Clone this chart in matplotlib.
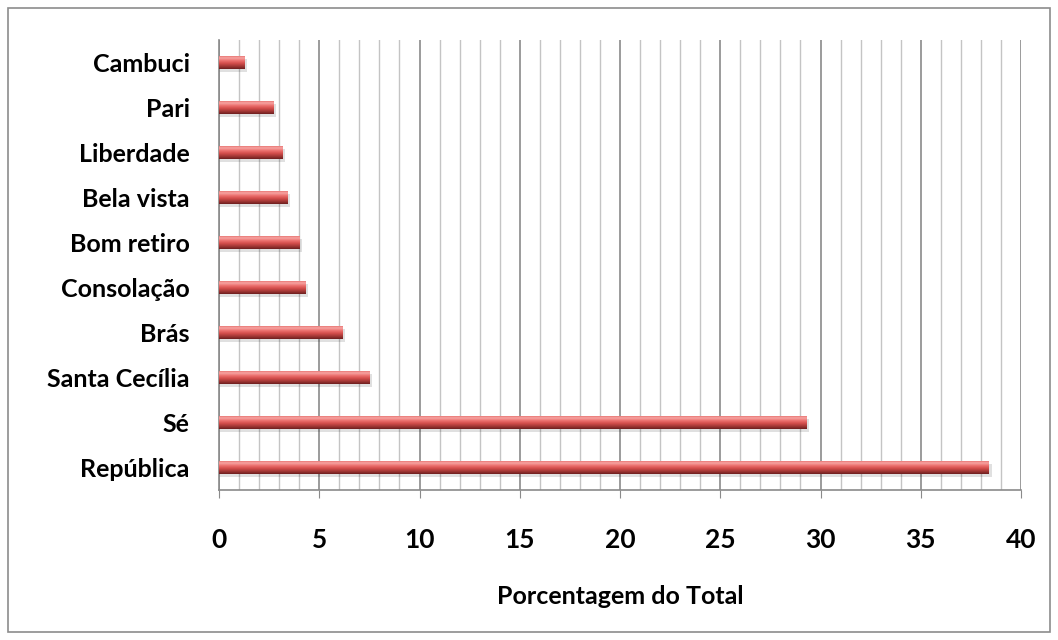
import numpy as np
import matplotlib.pyplot as plt
from matplotlib.colors import LinearSegmentedColormap
from matplotlib.patches import Rectangle

# Porcentagem do total por distrito (de baixo para cima)
distritos = ["República", "Sé", "Santa Cecília", "Brás", "Consolação",
             "Bom retiro", "Bela vista", "Liberdade", "Pari", "Cambuci"]
porcentagem = [38.4, 29.3, 7.5, 6.15, 4.3, 4.0, 3.4, 3.15, 2.7, 1.25]

plt.rcParams['font.family'] = ['Lato', 'DejaVu Sans']

fig = plt.figure(figsize=(10.58, 6.4), dpi=100)
ax = fig.add_axes([219/1058, 1 - 490/640, (1021-219)/1058, 450/640])

# moldura externa
fig.patches.append(Rectangle((8/1058, 8/640), 1042/1058, 624/640,
                             transform=fig.transFigure, fill=False,
                             edgecolor='#8c8c8c', linewidth=1.2))

y = np.arange(len(distritos))
h = 0.29
cmap = LinearSegmentedColormap.from_list(
    'cil', ['#6e1f1f', '#a33836', '#d24d4b', '#ec6f6d', '#f6a5a3', '#e4605e'])
grad = np.linspace(0, 1, 64).reshape(-1, 1)

for yi, v in zip(y, porcentagem):
    # sombra
    ax.barh(yi - 0.06, v + 0.15, height=h, color='#000000', alpha=0.12,
            zorder=2, linewidth=0)
    bar = ax.barh(yi, v, height=h, color='#c0504d', zorder=3, linewidth=0)[0]
    im = ax.imshow(grad, cmap=cmap, aspect='auto', origin='lower',
                   extent=[0, v, yi - h/2, yi + h/2], zorder=4)
    im.set_clip_path(bar)

ax.set_xlim(0, 40)
ax.set_ylim(-0.5, len(distritos) - 0.5)

ax.set_xticks(np.arange(0, 41, 5))
ax.set_xticks(np.arange(0, 41, 1), minor=True)
ax.grid(axis='x', which='major', color='#8a8a8a', linewidth=1.2, zorder=0)
ax.grid(axis='x', which='minor', color='#c4c4c4', linewidth=1.0, zorder=0)
ax.set_axisbelow(True)

ax.set_yticks(y)
ax.set_yticklabels(distritos, fontsize=18, fontweight='bold')
ax.tick_params(axis='y', which='major', length=0, pad=21)
ax.tick_params(axis='x', which='major', length=6, color='#8a8a8a',
               labelsize=19, pad=21)
ax.tick_params(axis='x', which='minor', length=0)
for t in ax.get_xticklabels():
    t.set_fontweight('bold')

for s in ['top', 'right']:
    ax.spines[s].set_visible(False)
for s in ['left', 'bottom']:
    ax.spines[s].set_color('#8a8a8a')
    ax.spines[s].set_linewidth(1.2)

ax.set_xlabel('Porcentagem do Total', fontsize=18, fontweight='bold',
              labelpad=24)

fig.savefig('out.png', dpi=100)
